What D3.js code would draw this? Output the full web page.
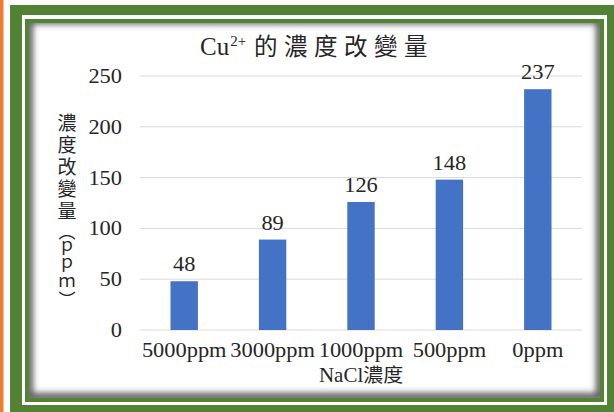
<!DOCTYPE html>
<html>
<head>
<meta charset="utf-8">
<script src="https://cdn.jsdelivr.net/npm/d3@7"></script>
<style>
  html, body { margin: 0; padding: 0; background: #fff; }
  svg { display: block; }
  text { fill: #262626; }
  .lat { font-family: "Liberation Serif", "Times New Roman", "DejaVu Serif", serif; }
  .cjk { font-family: "Noto Sans CJK TC", sans-serif; }
  .vert { writing-mode: vertical-rl; text-orientation: mixed; }
</style>
</head>
<body>
<svg id="chart" width="614" height="412"></svg>
<script>
// NaCl concentration groups and the change in Cu2+ concentration (ppm)
const categories = ["5000ppm", "3000ppm", "1000ppm", "500ppm", "0ppm"];
const values = [48, 89, 126, 148, 237];
const yTicks = [0, 50, 100, 150, 200, 250];
const yTitleMain = "濃度改變量";
const yTitleUnit = "︵ｐｐｍ︶";

const W = 614, H = 412;
const svg = d3.select("#chart");
const defs = svg.append("defs");

// ---- decorative frame ----
const green = "#548235";
svg.append("rect").attr("x", 0).attr("y", 0).attr("width", 3.5).attr("height", H).attr("fill", "#ed7d31");
svg.append("rect").attr("x", 10).attr("y", 5).attr("width", W - 10).attr("height", H - 5).attr("fill", green);
svg.append("rect").attr("x", 22).attr("y", 15).attr("width", 585).attr("height", 390).attr("fill", "#fff");
svg.append("rect").attr("x", 25).attr("y", 19).attr("width", 579).attr("height", 383).attr("fill", green);

const panel = { x: 29, y: 23, w: 571, h: 375 };
svg.append("rect").attr("x", panel.x).attr("y", panel.y).attr("width", panel.w).attr("height", panel.h).attr("fill", "#fff");

// inner shadow of the panel
defs.append("clipPath").attr("id", "panelClip")
  .append("rect").attr("x", panel.x).attr("y", panel.y).attr("width", panel.w).attr("height", panel.h);
defs.append("filter").attr("id", "soft").attr("x", "-10%").attr("y", "-10%").attr("width", "120%").attr("height", "120%")
  .append("feGaussianBlur").attr("stdDeviation", 3);
svg.append("g").attr("clip-path", "url(#panelClip)")
  .append("rect")
  .attr("x", panel.x).attr("y", panel.y - 3).attr("width", panel.w).attr("height", panel.h + 2)
  .attr("fill", "none").attr("stroke", "#5a5a5a").attr("stroke-width", 8)
  .attr("filter", "url(#soft)");

// ---- chart ----
const plot = { left: 140, right: 582, top: 76, bottom: 330 };

const x = d3.scaleBand().domain(categories).range([plot.left, plot.right]).paddingInner(0.69).paddingOuter(0.345);
const y = d3.scaleLinear().domain([0, 250]).range([plot.bottom, plot.top]);

// serif labels are set slightly stretched horizontally
function wide(sel, cx, cy, anchor, size, stretch) {
  return sel.attr("transform", `translate(${cx},${cy}) scale(${stretch},1)`)
    .attr("text-anchor", anchor).attr("font-size", size);
}

// gridlines
svg.append("g").selectAll("line").data(yTicks).join("line")
  .attr("x1", plot.left).attr("x2", plot.right)
  .attr("y1", d => y(d)).attr("y2", d => y(d))
  .attr("stroke", "#d9d9d9").attr("stroke-width", 1);

// y tick labels
svg.append("g").selectAll("text").data(yTicks).join("text")
  .attr("class", "lat")
  .each(function (d) { wide(d3.select(this), 122, y(d) + 7, "end", 20, 1.12); })
  .text(d => d);

// bars
const data = categories.map((c, i) => ({ c, v: values[i] }));
svg.append("g").selectAll("rect").data(data).join("rect")
  .attr("x", d => x(d.c)).attr("width", x.bandwidth())
  .attr("y", d => y(d.v)).attr("height", d => y(0) - y(d.v))
  .attr("fill", "#4472c4");

// value labels
svg.append("g").selectAll("text").data(data).join("text")
  .attr("class", "lat")
  .each(function (d) { wide(d3.select(this), x(d.c) + x.bandwidth() / 2, y(d.v) - 10, "middle", 20, 1.12); })
  .text(d => d.v);

// category labels
svg.append("g").selectAll("text").data(categories).join("text")
  .attr("class", "lat")
  .each(function (d) { wide(d3.select(this), x(d) + x.bandwidth() / 2, 357, "middle", 20, 1.12); })
  .text(d => d);

// x-axis title
const xt = svg.append("text").attr("class", "lat");
wide(xt, (plot.left + plot.right) / 2, 382, "middle", 20, 1.05);
xt.append("tspan").text("NaCl");
xt.append("tspan").attr("class", "cjk").attr("font-size", 19).text("濃度");

// chart title with superscript
const title = svg.append("text").attr("class", "lat")
  .attr("x", 200).attr("y", 55).attr("font-size", 25);
title.append("tspan").text("Cu");
title.append("tspan").attr("font-size", 15).attr("dy", -9).attr("dx", 1).text("2+");
title.append("tspan").attr("class", "cjk").attr("font-size", 23.5)
  .attr("x", 254).attr("y", 55).attr("letter-spacing", 6.5).text("的濃度改變量");

// vertical y-axis title
const yTitle = svg.append("text").attr("class", "cjk vert")
  .attr("x", 67).attr("y", 113);
yTitle.append("tspan").attr("font-size", 19).attr("letter-spacing", 3).text(yTitleMain);
yTitle.append("tspan").attr("font-size", 17).attr("letter-spacing", 0).text(yTitleUnit);
</script>
</body>
</html>
